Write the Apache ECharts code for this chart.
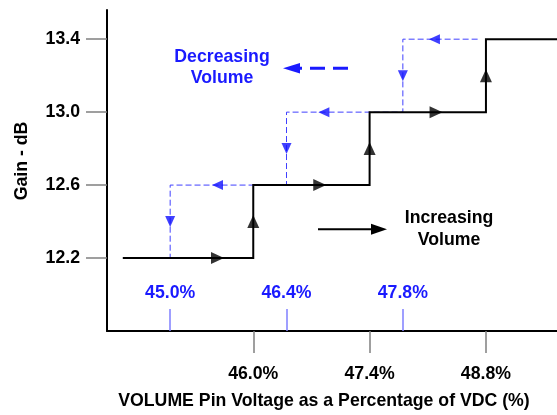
<!DOCTYPE html>
<html>
<head>
<meta charset="utf-8">
<script src="https://cdn.jsdelivr.net/npm/echarts@6/dist/echarts.min.js"></script>
<style>html,body{margin:0;padding:0;background:#fff}#c{width:557px;height:415px}</style>
</head>
<body>
<div id="c"></div>
<script>
// ---- data ----
const gainLevels = [12.2, 12.6, 13.0, 13.4];          // y tick labels / step levels (dB)
const incThresholds = [46.0, 47.4, 48.8];            // increasing-volume step points (%)
const decThresholds = [45.0, 46.4, 47.8];            // decreasing-volume step points (%)
const pathStartX = 44.43;                            // where both curves begin at 12.2 dB
const decStartX = 48.7;                              // where decreasing curve begins at 13.4 dB
const incArrowX = [45.57, 46.8, 48.2];               // right-pointing arrows on increasing levels
const decArrowX = [45.57, 46.85, 48.18];             // left-pointing arrows on decreasing levels
const xMin = 44.24, xMax = 49.655, yMin = 11.8, yMax = 13.56;

// ---- build paths ----
const incPath = [[pathStartX, gainLevels[0]]];
incThresholds.forEach((x, i) => { incPath.push([x, gainLevels[i]]); incPath.push([x, gainLevels[i + 1]]); });
incPath.push([xMax, gainLevels[gainLevels.length - 1]]);

const decPath = [[decStartX, gainLevels[3]]];
for (let i = decThresholds.length - 1; i >= 0; i--) {
  decPath.push([decThresholds[i], gainLevels[i + 1]]);
  decPath.push([decThresholds[i], gainLevels[i]]);
}
decPath.push([pathStartX, gainLevels[0]]);

const mid = i => (gainLevels[i] + gainLevels[i + 1]) / 2;
const blackArrows = [];
incArrowX.forEach((x, i) => blackArrows.push({ value: [x, gainLevels[i]], symbolRotate: -90 }));
incThresholds.forEach((x, i) => blackArrows.push({ value: [x, mid(i)], symbolRotate: 0 }));
const blueArrows = [];
decArrowX.forEach((x, i) => blueArrows.push({ value: [x, gainLevels[i + 1]], symbolRotate: 90 }));
decThresholds.forEach((x, i) => blueArrows.push({ value: [x, mid(i)], symbolRotate: 180 }));

const FONT = 'Liberation Sans, Arial, sans-serif';
const FS = 17.7;
const BLUE = '#1a1aff';
const pct = v => v.toFixed(1) + '%';

const chart = echarts.init(document.getElementById('c'), null, { renderer: 'canvas' });
chart.setOption({
  backgroundColor: '#ffffff',
  animation: false,
  grid: { left: 107, right: 0, top: 10, bottom: 83, containLabel: false },
  xAxis: [{
    type: 'value', min: xMin, max: xMax, position: 'bottom',
    name: 'VOLUME Pin Voltage as a Percentage of VDC (%)', nameLocation: 'middle', nameGap: 61,
    nameTextStyle: { fontFamily: FONT, fontWeight: 'bold', fontSize: FS, color: '#000', padding: [0, 16, 0, 0] },
    axisLine: { show: true, onZero: false, lineStyle: { color: '#000', width: 2 } },
    axisTick: { show: true, length: 22, customValues: incThresholds, lineStyle: { color: '#808080', width: 1.5 } },
    axisLabel: { show: true, margin: 34, customValues: incThresholds, formatter: pct,
      fontFamily: FONT, fontWeight: 'bold', fontSize: FS, color: '#000' },
    splitLine: { show: false }
  }, {
    type: 'value', min: xMin, max: xMax, position: 'bottom',
    axisLine: { show: false, onZero: false },
    axisTick: { show: true, inside: true, length: 22, customValues: decThresholds, lineStyle: { color: '#8080ff', width: 1.5 } },
    axisLabel: { show: true, inside: true, margin: 29, customValues: decThresholds, formatter: pct,
      fontFamily: FONT, fontWeight: 'bold', fontSize: FS, color: BLUE },
    splitLine: { show: false }
  }],
  yAxis: {
    type: 'value', min: yMin, max: yMax,
    name: 'Gain - dB', nameLocation: 'middle', nameGap: 76, nameRotate: 90,
    nameTextStyle: { fontFamily: FONT, fontWeight: 'bold', fontSize: FS, color: '#000', padding: [0, 0, 0, 19] },
    axisLine: { show: true, onZero: false, lineStyle: { color: '#000', width: 2 } },
    axisTick: { show: true, length: 21, customValues: gainLevels, lineStyle: { color: '#808080', width: 1.5 } },
    axisLabel: { show: true, margin: 27, customValues: gainLevels, formatter: v => v.toFixed(1),
      fontFamily: FONT, fontWeight: 'bold', fontSize: FS, color: '#000' },
    splitLine: { show: false }
  },
  series: [{
    type: 'line', data: decPath, symbol: 'none', z: 2,
    lineStyle: { color: '#4040ff', width: 1, type: [6, 3] }
  }, {
    type: 'line', data: incPath, symbol: 'none', z: 3,
    lineStyle: { color: '#000', width: 2, join: 'miter', cap: 'butt' }
  }, {
    type: 'scatter', data: blueArrows, symbol: 'triangle', symbolSize: [10, 11], z: 4,
    itemStyle: { color: '#1010ff' }
  }, {
    type: 'scatter', data: blackArrows, symbol: 'triangle', symbolSize: [12, 13], z: 5,
    itemStyle: { color: '#000' }
  }],
  graphic: [
    { type: 'text', style: { text: 'Decreasing\nVolume', x: 222, y: 67.5, align: 'center', verticalAlign: 'middle',
        font: 'bold 17.7px ' + FONT, lineHeight: 21, fill: BLUE } },
    { type: 'text', style: { text: 'Increasing\nVolume', x: 449, y: 229, align: 'center', verticalAlign: 'middle',
        font: 'bold 17.7px ' + FONT, lineHeight: 22, fill: '#000' } },
    { type: 'line', shape: { x1: 348, y1: 68.3, x2: 300, y2: 68.3 }, style: { stroke: BLUE, lineWidth: 3, lineDash: [15, 8] } },
    { type: 'polygon', shape: { points: [[283, 68.3], [300, 63], [300, 73.6]] }, style: { fill: BLUE } },
    { type: 'line', shape: { x1: 318, y1: 229.3, x2: 373, y2: 229.3 }, style: { stroke: '#000', lineWidth: 2 } },
    { type: 'polygon', shape: { points: [[387, 229.3], [371, 223.8], [371, 234.8]] }, style: { fill: '#000' } }
  ]
});
</script>
</body>
</html>
